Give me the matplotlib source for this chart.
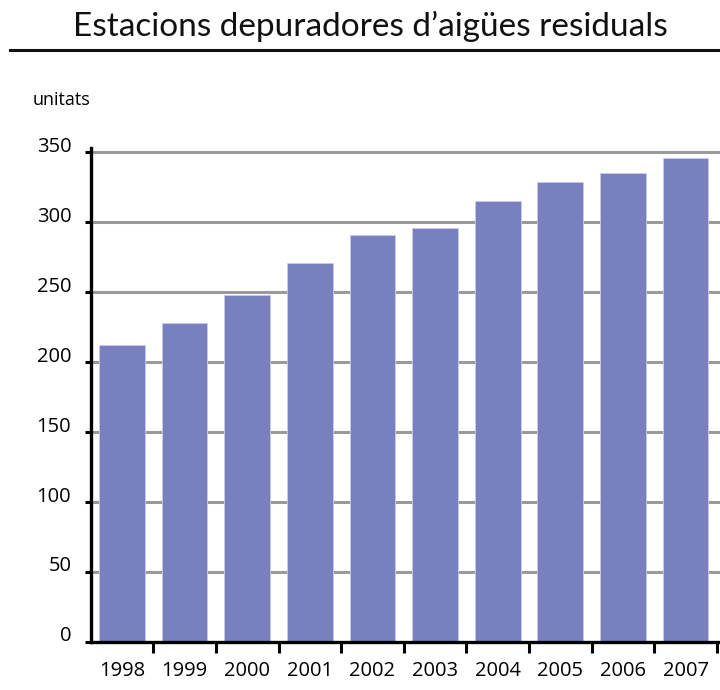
import matplotlib
matplotlib.use('Agg')
import matplotlib.pyplot as plt
import matplotlib.transforms as mtransforms
import numpy as np

years = ['1998', '1999', '2000', '2001', '2002', '2003', '2004', '2005', '2006', '2007']
units = [212, 228, 248, 271, 291, 296, 315, 329, 335, 346]
y_ticks = [0, 50, 100, 150, 200, 250, 300, 350]

bar_color = '#7880be'
grid_color = '#9a9a9a'

plt.rcParams['font.family'] = ['Open Sans', 'DejaVu Sans']

fig = plt.figure(figsize=(7.2, 6.9), dpi=100)
ax = fig.add_axes([0.126, 0.0696, 0.874, 0.716])

x = np.arange(len(years))
ax.bar(x, units, width=0.73, color=bar_color, edgecolor='#c9cbe8', linewidth=0.6, zorder=2)

ax.set_xlim(-0.5, len(years) - 0.45)
ax.set_ylim(0, 353)

# gridlines behind the bars
for v in y_ticks[1:]:
    ax.axhline(v, color=grid_color, lw=2.2, zorder=1)

ax.set_yticks(y_ticks)
ax.set_yticklabels([str(v) for v in y_ticks], fontsize=14.5)
ax.tick_params(axis='y', length=4, width=2.2, pad=10, direction='out')
offset = mtransforms.ScaledTranslation(0, 8 / 100, fig.dpi_scale_trans)
for lbl in ax.get_yticklabels():
    lbl.set_transform(lbl.get_transform() + offset)

ax.set_xticks(x)
ax.set_xticklabels(years, fontsize=14.5)
ax.set_xticks(np.arange(len(years)) + 0.5, minor=True)
ax.tick_params(axis='x', which='major', length=0, pad=14)
ax.tick_params(axis='x', which='minor', length=8, width=2.2, direction='out')

for s in ['top', 'right']:
    ax.spines[s].set_visible(False)
for s in ['left', 'bottom']:
    ax.spines[s].set_linewidth(2.4)
    ax.spines[s].set_color('black')
    ax.spines[s].set_zorder(3)

fig.text(0.514, 0.962, 'Estacions depuradores d\u2019aig\u00fces residuals', ha='center', va='center',
         fontsize=24, family=['Lato', 'DejaVu Sans'], color='#111111')
fig.add_artist(plt.Line2D([10 / 720, 1.0], [1 - 50 / 690, 1 - 50 / 690], color='#111111', lw=2.2))
fig.text(33 / 720, 1 - 100 / 690, 'unitats', ha='left', va='center', fontsize=13)

fig.savefig('out.png', dpi=100)
